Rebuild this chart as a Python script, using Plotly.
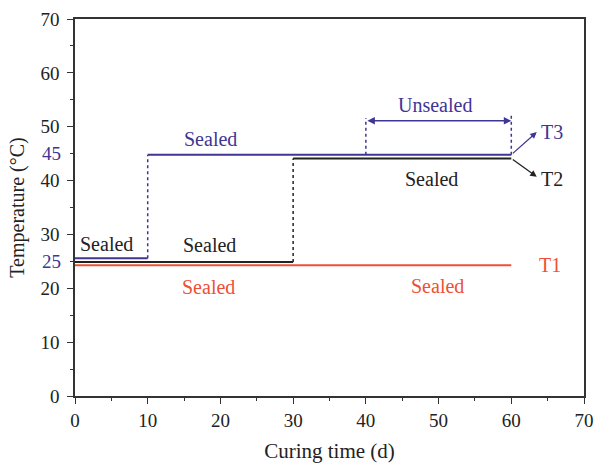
import plotly.graph_objects as go

# ---- data ----
t1_time = [0, 60]
t1_temp = [24.3, 24.3]

t2_time_a = [0, 30]
t2_temp_a = [24.9, 24.9]
t2_time_b = [30, 60]
t2_temp_b = [44.1, 44.1]

t3_time_a = [0, 10]
t3_temp_a = [25.6, 25.6]
t3_time_b = [10, 60]
t3_temp_b = [44.8, 44.8]

unsealed_start = 40
unsealed_end = 60
unsealed_top_start = 51.6
unsealed_top_end = 52.5
unsealed_arrow_y = 51.1

x_ticks = [0, 10, 20, 30, 40, 50, 60, 70]
y_ticks = [0, 10, 20, 30, 40, 50, 60, 70]
extra_y_ticks = [25, 45]

BLUE = "#3f3594"
RED = "#ef4f36"
BLACK = "#222222"
FONT = "Liberation Serif, serif"

fig = go.Figure()

def seg(x, y, color, dash="solid", width=2):
    fig.add_trace(go.Scatter(x=x, y=y, mode="lines",
                             line=dict(color=color, width=width, dash=dash),
                             showlegend=False, hoverinfo="skip"))

# T1
seg(t1_time, t1_temp, RED)
# T2
seg(t2_time_a, t2_temp_a, BLACK)
seg([t2_time_a[1], t2_time_b[0]], [t2_temp_a[1], t2_temp_b[0]], BLACK, "dot", 1.5)
seg(t2_time_b, t2_temp_b, BLACK)
# T3
seg(t3_time_a, t3_temp_a, BLUE)
seg([t3_time_a[1], t3_time_b[0]], [t3_temp_a[1], t3_temp_b[0]], BLUE, "dot", 1.5)
seg(t3_time_b, t3_temp_b, BLUE)
# unsealed period markers
seg([unsealed_start, unsealed_start], [t3_temp_b[0], unsealed_top_start], BLUE, "dot", 1.5)
seg([unsealed_end, unsealed_end], [t3_temp_b[0], unsealed_top_end], BLUE, "dot", 1.5)

ann = []
# double-headed arrow for unsealed period
ann.append(dict(x=unsealed_end, y=unsealed_arrow_y, ax=unsealed_start, ay=unsealed_arrow_y,
                xref="x", yref="y", axref="x", ayref="y", text="", showarrow=True,
                arrowhead=2, startarrowhead=2, arrowside="end+start", arrowsize=1,
                arrowwidth=1.5, arrowcolor=BLUE, startarrowsize=1))
# T3 / T2 pointer arrows
ann.append(dict(x=63.5, y=49.0, ax=60, ay=t3_temp_b[1], xref="x", yref="y",
                axref="x", ayref="y", text="", showarrow=True, arrowhead=2,
                arrowsize=1, arrowwidth=1.3, arrowcolor=BLUE))
ann.append(dict(x=63.5, y=40.7, ax=60, ay=t2_temp_b[1], xref="x", yref="y",
                axref="x", ayref="y", text="", showarrow=True, arrowhead=2,
                arrowsize=1, arrowwidth=1.3, arrowcolor=BLACK))

def label(x, y, text, color, size=20, xanchor="center"):
    ann.append(dict(x=x, y=y, xref="x", yref="y", text=text, showarrow=False,
                    font=dict(family=FONT, size=size, color=color), xanchor=xanchor,
                    yanchor="middle"))

label(63.8, 49.0, "T3", BLUE, xanchor="left")
label(63.8, 40.3, "T2", BLACK, xanchor="left")
label(65.3, 24.4, "T1", RED)
label(49.5, 54.1, "Unsealed", BLUE)
label(18.6, 47.7, "Sealed", BLUE)
label(49.0, 40.3, "Sealed", BLACK)
label(4.3, 28.3, "Sealed", BLACK)
label(18.5, 28.1, "Sealed", BLACK)
label(18.4, 20.2, "Sealed", RED)
label(49.9, 20.5, "Sealed", RED)

# extra blue tick labels at 25 and 45
for v in extra_y_ticks:
    ann.append(dict(x=0, y=v, xref="paper", yref="y", text=str(v), showarrow=False,
                    xanchor="right", yanchor="middle", xshift=-12,
                    font=dict(family=FONT, size=19, color=BLUE)))

axis_common = dict(showline=True, linecolor="#333333", linewidth=1.5, mirror=True,
                   ticks="outside", ticklen=6, tickwidth=1.2, tickcolor="#333333",
                   showgrid=False, zeroline=False, automargin=False,
                   tickfont=dict(family=FONT, size=19, color="#222222"),
                   minor=dict(ticks="outside", ticklen=3, tickwidth=1.2,
                              tickcolor="#333333", dtick=5, showgrid=False))

fig.update_xaxes(range=[0, 70], tickvals=x_ticks,
                 title=dict(text="Curing time (d)", font=dict(family=FONT, size=21, color="#222222"),
                            standoff=14),
                 **axis_common)
fig.update_yaxes(range=[0, 70], tickvals=y_ticks, ticklabelstandoff=4,
                 title=dict(text="Temperature (°C)", font=dict(family=FONT, size=20, color="#222222"),
                            standoff=10),
                 **axis_common)

fig.update_layout(width=595, height=463, margin=dict(l=75, r=11, t=19, b=67),
                  plot_bgcolor="white", paper_bgcolor="white", annotations=ann,
                  font=dict(family=FONT))

# remove the default page margin so the figure fills the window exactly
fig.write_html("out.html", config={"displayModeBar": False},
               post_script="document.body.style.margin='0';document.body.style.overflow='hidden';")
